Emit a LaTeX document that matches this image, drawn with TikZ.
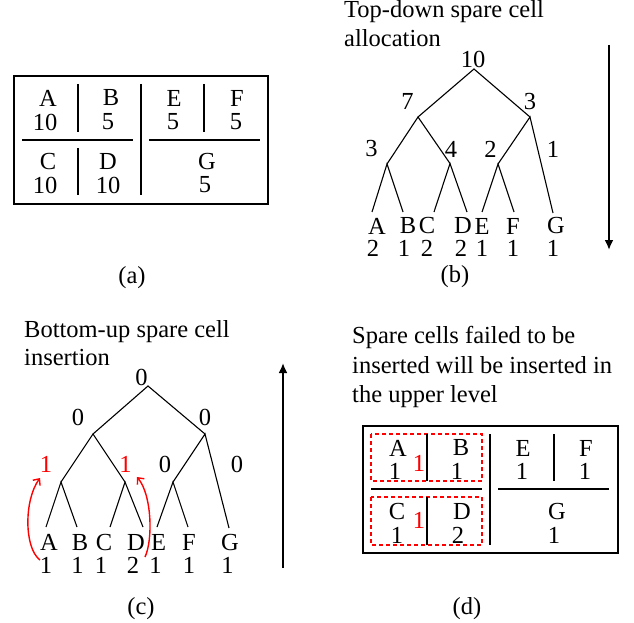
\documentclass[tikz,border=0pt]{standalone}
\usepackage{fontspec}
\setmainfont{Liberation Serif}
\usetikzlibrary{arrows.meta}

\begin{document}
\begin{tikzpicture}[x=1pt,y=-1pt,
  txt/.style={inner sep=0pt, font=\fontsize{24.5}{29}\selectfont},
  hot/.style={txt, text=red},
  ttl/.style={txt, anchor=base west},
  frame/.style={draw=black, line width=1.4pt},
  rule/.style={draw=black, line width=1.3pt},
  branch/.style={draw=black, line width=1.1pt},
  flow/.style={draw=black, line width=2.6pt, -{Latex[length=10pt,width=9pt]}},
  lift/.style={draw=red, line width=1.4pt, -{Straight Barb[length=5pt,width=9pt]}},
  spare/.style={draw=red, line width=1.2pt, dash pattern=on 4pt off 3pt}]

\useasboundingbox (0,0) rectangle (634,623);

% ---------------- (a) floorplan with required spare cells ----------------
\draw[frame] (14,76) rectangle (268,204);
\draw[rule] (78,84) -- (78,132);
\draw[rule] (78,148) -- (78,195);
\draw[rule] (141,84) -- (141,195);
\draw[rule] (204,84) -- (204,132);
\draw[rule] (22,140) -- (133,140);
\draw[rule] (149,140) -- (260,140);
\node[txt] (aA)  at (48,98)    {A};  \node[txt] (aAv) at (45,122)  {10};
\node[txt] (aB)  at (111,98)   {B};  \node[txt] (aBv) at (108,122) {5};
\node[txt] (aE)  at (174,98)   {E};  \node[txt] (aEv) at (173,122) {5};
\node[txt] (aF)  at (237,98)   {F};  \node[txt] (aFv) at (236,122) {5};
\node[txt] (aC)  at (48,161.5) {C};  \node[txt] (aCv) at (45,185)  {10};
\node[txt] (aD)  at (108,161.5){D};  \node[txt] (aDv) at (108,185) {10};
\node[txt] (aG)  at (207,161.5){G};  \node[txt] (aGv) at (205,185) {5};
\node[txt] (capa) at (132,278) {(a)};

% ---------------- (b) top-down allocation ----------------
\node[ttl] (tb1) at (344,18) {Top-down spare cell};
\node[ttl] (tb2) at (344,47) {allocation};
\coordinate (bR)  at (474,69);
\coordinate (bL)  at (418,117);
\coordinate (bRr) at (530,117);
\coordinate (bLL) at (387,164);
\coordinate (bLR) at (450,163.5);
\coordinate (bRL) at (498,164);
\coordinate (bA) at (372,212);
\coordinate (bB) at (403,212);
\coordinate (bC) at (434,212);
\coordinate (bD) at (467,212);
\coordinate (bE) at (482,212);
\coordinate (bF) at (514,212);
\coordinate (bG) at (553,213);
\draw[branch] (bL) -- (bR) -- (bRr);
\draw[branch] (bLL) -- (bL) -- (bLR);
\draw[branch] (bRL) -- (bRr) -- (bG);
\draw[branch] (bA) -- (bLL) -- (bB);
\draw[branch] (bC) -- (bLR) -- (bD);
\draw[branch] (bE) -- (bRL) -- (bF);
\node[txt] (bn10) at (473,59)    {10};
\node[txt] (bn7)  at (407.5,101.5) {7};
\node[txt] (bn3)  at (530,101.5) {3};
\node[txt] (bn3b) at (371.5,149) {3};
\node[txt] (bn4)  at (451,149)   {4};
\node[txt] (bn2)  at (490.5,149) {2};
\node[txt] (bn1)  at (553,149)   {1};
\node[txt] (bLa) at (377,226) {A}; \node[txt] (bVa) at (373,248) {2};
\node[txt] (bLb) at (408,226) {B}; \node[txt] (bVb) at (404,248) {1};
\node[txt] (bLc) at (427,226) {C}; \node[txt] (bVc) at (427,248) {2};
\node[txt] (bLd) at (463,226) {D}; \node[txt] (bVd) at (461,248) {2};
\node[txt] (bLe) at (482,226) {E}; \node[txt] (bVe) at (482,248) {1};
\node[txt] (bLf) at (513,226) {F}; \node[txt] (bVf) at (513,248) {1};
\node[txt] (bLg) at (556,226) {G}; \node[txt] (bVg) at (553,248) {1};
\coordinate (bTop) at (609,45);
\coordinate (bBot) at (609,250);
\draw[flow] (bTop) -- (bBot);
\node[txt] (capb) at (455,276.5) {(b)};

% ---------------- (c) bottom-up insertion ----------------
\node[ttl] (tc1) at (24,337) {Bottom-up spare cell};
\node[ttl] (tc2) at (24,365) {insertion};
\coordinate (cR)  at (148,386);
\coordinate (cL)  at (93,434);
\coordinate (cRr) at (205,434);
\coordinate (cLL) at (61,482);
\coordinate (cLR) at (125,482);
\coordinate (cRL) at (173,482);
\coordinate (cA) at (46,527);
\coordinate (cB) at (77,527);
\coordinate (cC) at (110,527);
\coordinate (cD) at (143,527);
\coordinate (cE) at (157,527);
\coordinate (cF) at (188,527);
\coordinate (cG) at (229,528);
\draw[branch] (cL) -- (cR) -- (cRr);
\draw[branch] (cLL) -- (cL) -- (cLR);
\draw[branch] (cRL) -- (cRr) -- (cG);
\draw[branch] (cA) -- (cLL) -- (cB);
\draw[branch] (cC) -- (cLR) -- (cD);
\draw[branch] (cE) -- (cRL) -- (cF);
\node[txt] (cn0)  at (141.5,377.5) {0};
\node[txt] (cn0l) at (78,417.5)    {0};
\node[txt] (cn0r) at (205,417.5)   {0};
\node[hot] (cn1a) at (46,464)      {1};
\node[hot] (cn1b) at (125.5,464)   {1};
\node[txt] (cn0c) at (165,464)     {0};
\node[txt] (cn0d) at (237,464)     {0};
\node[txt] (cLa) at (49,542.5)  {A}; \node[txt] (cVa) at (46,565.5)    {1};
\node[txt] (cLb) at (80,542.5)  {B}; \node[txt] (cVb) at (77.5,565.5)  {1};
\node[txt] (cLc) at (104,542.5) {C}; \node[txt] (cVc) at (101,565.5)   {1};
\node[txt] (cLd) at (136,542.5) {D}; \node[txt] (cVd) at (133,565.5)   {2};
\node[txt] (cLe) at (158.7,542.5) {E}; \node[txt] (cVe) at (155.5,565.5) {1};
\node[txt] (cLf) at (189,542.5) {F}; \node[txt] (cVf) at (189,565.5)   {1};
\node[txt] (cLg) at (230,542.5) {G}; \node[txt] (cVg) at (227.5,565.5) {1};
% leftover spares pushed one level up
\coordinate (uA0) at (40,560);
\coordinate (uA1) at (40,478);
\coordinate (uD0) at (145,557);
\coordinate (uD1) at (137,477);
\draw[lift] (uA0) .. controls (24,548) and (24,500) .. (uA1);
\draw[lift] (uD0) .. controls (153,540) and (152,495) .. (uD1);
\coordinate (cBot) at (283,568);
\coordinate (cTop) at (283,363);
\draw[flow] (cBot) -- (cTop);
\node[txt] (capc) at (141,609) {(c)};

% ---------------- (d) floorplan after insertion ----------------
\node[ttl] (td1) at (352,343) {Spare cells failed to be};
\node[ttl] (td2) at (352,373) {inserted will be inserted in};
\node[ttl] (td3) at (352,402) {the upper level};
\draw[frame] (363,426) rectangle (618,553);
\draw[spare] (371,434) rectangle (482,481);
\draw[spare] (371,497) rectangle (482,545);
\draw[rule] (427,434) -- (427,481);
\draw[rule] (427,497) -- (427,545);
\draw[rule] (490,434) -- (490,545);
\draw[rule] (554,434) -- (554,481);
\draw[rule] (371,489) -- (482,489);
\draw[rule] (498,489) -- (609,489);
\node[txt] (dA) at (398,448)   {A}; \node[txt] (dAv) at (395,471) {1};
\node[hot] (dAB) at (419,463)  {1};
\node[txt] (dB) at (461,448)   {B}; \node[txt] (dBv) at (457,471) {1};
\node[txt] (dE) at (523,448)   {E}; \node[txt] (dEv) at (522,471) {1};
\node[txt] (dF) at (586,448)   {F}; \node[txt] (dFv) at (585,471) {1};
\node[txt] (dC) at (397,511.5) {C}; \node[txt] (dCv) at (397,535) {1};
\node[hot] (dCD) at (419,520)  {1};
\node[txt] (dD) at (462,511.5) {D}; \node[txt] (dDv) at (458,535) {2};
\node[txt] (dG) at (557,511.5) {G}; \node[txt] (dGv) at (554,535) {1};
\node[txt] (capd) at (467,609) {(d)};
\end{tikzpicture}
\end{document}
